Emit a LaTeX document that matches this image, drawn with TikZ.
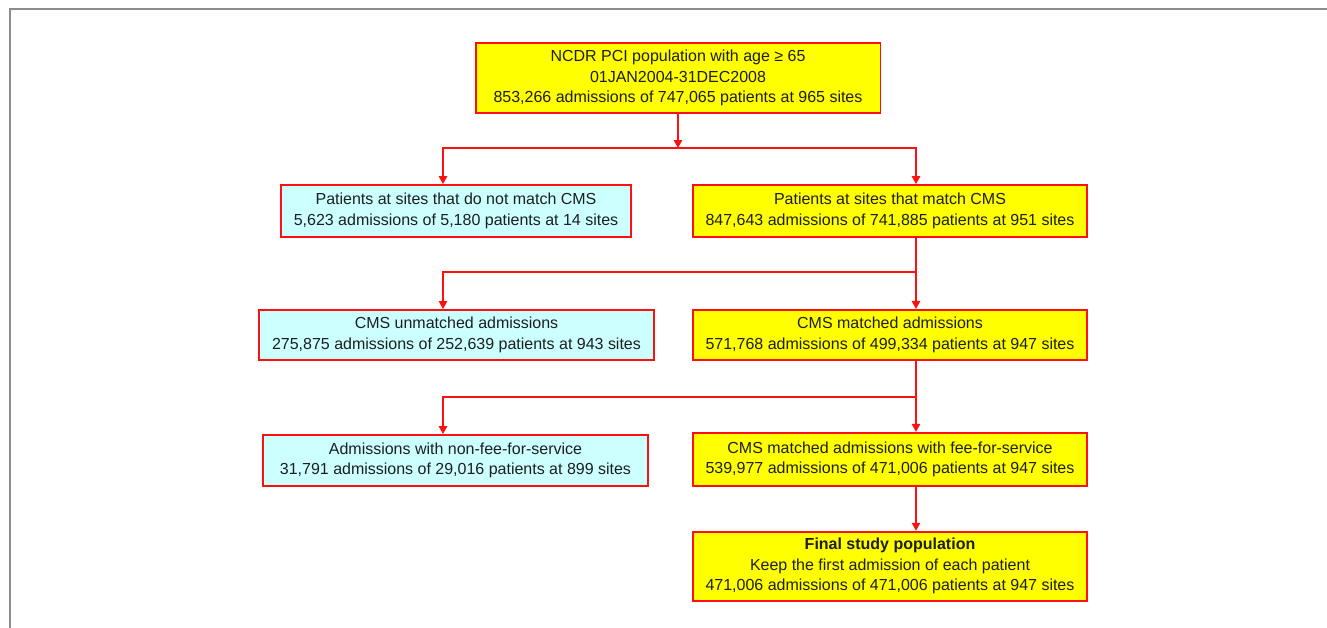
\documentclass[tikz,border=0pt]{standalone}
\usepackage{fontspec}
\setmainfont{Liberation Sans}
\usetikzlibrary{positioning,arrows.meta}
\definecolor{BoxRed}{HTML}{FF1010}
\definecolor{Lemon}{HTML}{FFFF00}
\definecolor{Sky}{HTML}{CCFFFF}
\definecolor{FrameGray}{HTML}{8C8C8C}
\definecolor{Ink}{HTML}{1E1E1E}
\tikzset{
  box/.style={draw=BoxRed, line width=1.1pt, align=center, inner sep=0pt, text=Ink, font=\fontsize{9.1}{11.6}\selectfont},
  yellowbox/.style={box, fill=Lemon},
  cyanbox/.style={box, fill=Sky},
  flow/.style={-{Triangle[length=1.6mm,width=1.7mm]}, line width=0.8pt, color=BoxRed},
}

\begin{document}
\begin{tikzpicture}[x=0.02cm, y=-0.02cm]
\useasboundingbox (0,0) rectangle (1327,628);
\draw[FrameGray, line width=1.1pt] (10,628) -- (10,9) -- (1327,9);

% boxes
\node[yellowbox, minimum width=8.1cm, minimum height=1.4cm] (ncdr) at (678,78) {NCDR PCI population with age ≥ 65\\01JAN2004-31DEC2008\\853,266 admissions of 747,065 patients at 965 sites};
\node[yellowbox, minimum width=7.88cm, minimum height=1.04cm] (sitematch) at (890,211) {Patients at sites that match CMS\\847,643 admissions of 741,885 patients at 951 sites};
\node[cyanbox, minimum width=7cm, minimum height=1.04cm] (sitenomatch) at (456,211) {Patients at sites that do not match CMS\\5,623 admissions of 5,180 patients at 14 sites};
\node[yellowbox, minimum width=7.88cm, minimum height=1cm, below=1.42cm of sitematch] (cmsmatch) {CMS matched admissions\\571,768 admissions of 499,334 patients at 947 sites};
\node[cyanbox, minimum width=7.9cm, minimum height=1cm] (cmsnomatch) at (456.5,335) {CMS unmatched admissions\\275,875 admissions of 252,639 patients at 943 sites};
\node[yellowbox, minimum width=7.88cm, minimum height=1.06cm, below=1.42cm of cmsmatch] (ffs) {CMS matched admissions with fee-for-service\\539,977 admissions of 471,006 patients at 947 sites};
\node[cyanbox, minimum width=7.7cm, minimum height=1.02cm] (nonffs) at (455.5,460.5) {Admissions with non-fee-for-service\\31,791 admissions of 29,016 patients at 899 sites};
\node[yellowbox, minimum width=7.88cm, minimum height=1.38cm, below=0.88cm of ffs] (final) {\bfseries Final study population\\Keep the first admission of each patient\\471,006 admissions of 471,006 patients at 947 sites};

% branch columns and split levels
\coordinate (colL) at (443,0);
\coordinate (colR) at (916,0);
\coordinate (split1) at (0,148);
\coordinate (split2) at (0,272);
\coordinate (split3) at (0,397);

% connectors
\draw[flow] (ncdr.south) -- (ncdr.south |- split1);
\draw[flow] (ncdr.south |- split1) -| (colL |- sitenomatch.north);
\draw[flow] (ncdr.south |- split1) -| (colR |- sitematch.north);
\draw[flow] (colR |- sitematch.south) -- (colR |- cmsmatch.north);
\draw[flow] (colR |- split2) -| (colL |- cmsnomatch.north);
\draw[flow] (colR |- cmsmatch.south) -- (colR |- ffs.north);
\draw[flow] (colR |- split3) -| (colL |- nonffs.north);
\draw[flow] (colR |- ffs.south) -- (colR |- final.north);
\end{tikzpicture}
\end{document}
